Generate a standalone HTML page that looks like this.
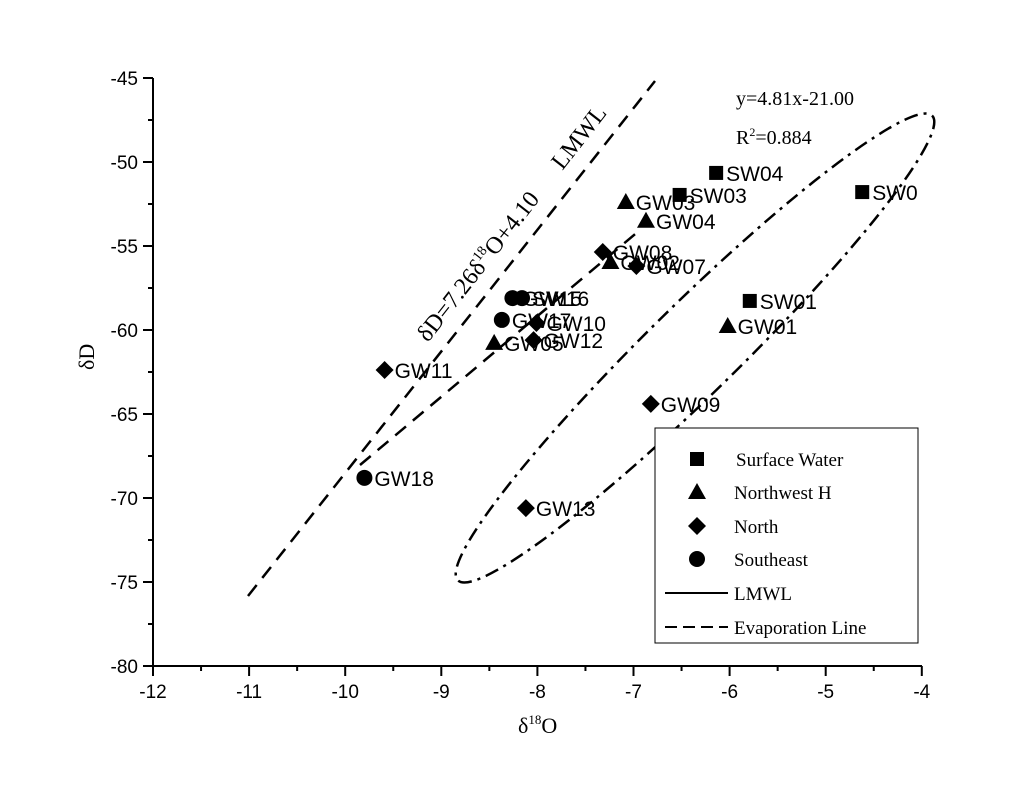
<!DOCTYPE html>
<html><head><meta charset="utf-8"><style>
body{margin:0;background:#fff}
svg text{font-family:"Liberation Sans",sans-serif}
.serif{font-family:"Liberation Serif",serif}
</style></head><body>
<svg id="chart" width="1024" height="784" viewBox="0 0 1024 784">
<g id="axes"></g>
<g id="marks"></g>
</svg>
<script>
const xTicks=[-12,-11,-10,-9,-8,-7,-6,-5,-4];
const yTicks=[-45,-50,-55,-60,-65,-70,-75,-80];
const labels=["SW04","SW03","SW0","SW01","GW03","GW04","GW01","GW05","GW02","GW08","GW07","GW09","GW11","GW13","GW10","GW12","GW18","GW17","GW15","SW16"];
const types=["sq","sq","sq","sq","tri","tri","tri","tri","tri","dia","dia","dia","dia","dia","dia","dia","cir","cir","cir","cir"];
const xs=[-6.14,-6.52,-4.62,-5.79,-7.08,-6.87,-6.02,-8.45,-7.24,-7.32,-6.97,-6.82,-9.59,-8.12,-8.01,-8.04,-9.80,-8.37,-8.26,-8.16];
const ys=[-50.65,-51.96,-51.79,-58.27,-52.38,-53.5,-59.76,-60.77,-55.95,-55.36,-56.19,-64.4,-62.38,-70.6,-59.58,-60.6,-68.8,-59.4,-58.1,-58.1];
const X=v=>153+(v+12)*96.1, Y=v=>78+(-45-v)*16.8;
const NS="http://www.w3.org/2000/svg";
function mk(t,a,p){const e=document.createElementNS(NS,t);for(const k in a)e.setAttribute(k,a[k]);p.appendChild(e);return e;}
const ax=document.getElementById('axes'), mg=document.getElementById('marks');
let l=mk('line',{x1:153,y1:78,x2:153,y2:666,stroke:'#000','stroke-width':2},ax);


l=mk('line',{x1:152,y1:666,x2:922,y2:666,stroke:'#000','stroke-width':2},ax);


xTicks.forEach((v,i)=>{
 mk('line',{x1:X(v),y1:666,x2:X(v),y2:676,stroke:'#000','stroke-width':2},ax);
 if(i<xTicks.length-1) mk('line',{x1:X(v+0.5),y1:666,x2:X(v+0.5),y2:671,stroke:'#000','stroke-width':2},ax);
 const t=mk('text',{x:X(v),y:698,'text-anchor':'middle','font-size':19},ax);t.textContent=v;
 
 
});
yTicks.forEach((v,i)=>{
 mk('line',{x1:143,y1:Y(v),x2:153,y2:Y(v),stroke:'#000','stroke-width':2},ax);
 if(i<yTicks.length-1) mk('line',{x1:148,y1:Y(v-2.5),x2:153,y2:Y(v-2.5),stroke:'#000','stroke-width':2},ax);
 const t=mk('text',{x:138,y:Y(v)+7,'text-anchor':'end','font-size':19},ax);t.textContent=v;
 
 
});
l=mk('line',{x1:248,y1:596,x2:655,y2:81,stroke:'#000','stroke-width':2.5,'stroke-dasharray':'14,9'},mg);


l=mk('line',{x1:360,y1:465,x2:640,y2:230,stroke:'#000','stroke-width':2.5,'stroke-dasharray':'14,9'},mg);


l=mk('ellipse',{cx:695,cy:348,rx:332,ry:45,transform:'rotate(-44.4 695 348)',fill:'none',stroke:'#000','stroke-width':2.5,'stroke-dasharray':'14,6,3,6'},mg);


function marker(type,cx,cy,p){
 if(type==='sq') return mk('rect',{x:cx-7,y:cy-7,width:14,height:14,fill:'#000'},p);
 if(type==='tri') return mk('polygon',{points:`${cx},${cy-9} ${cx-9},${cy+7} ${cx+9},${cy+7}`,fill:'#000'},p);
 if(type==='dia') return mk('polygon',{points:`${cx},${cy-9} ${cx+9},${cy} ${cx},${cy+9} ${cx-9},${cy}`,fill:'#000'},p);
 return mk('circle',{cx:cx,cy:cy,r:8,fill:'#000'},p);
}
labels.forEach((n,i)=>{
 const cx=X(xs[i]),cy=Y(ys[i]);
 const m=marker(types[i],cx,cy,mg);
 
 
 const t=mk('text',{x:cx+10,y:cy+8,'font-size':21},mg);t.textContent=n;
 
 
});
</script>
<svg width="1024" height="784" style="position:absolute;left:0;top:0">
<text class="serif" x="736" y="105" font-size="20">y=4.81x-21.00</text>
<text class="serif" x="736" y="144" font-size="20">R<tspan dy="-8" font-size="12">2</tspan><tspan dy="8">=0.884</tspan></text>
<text class="serif" transform="translate(428,343) rotate(-52)" font-size="24" style="white-space:pre">δD=7.26δ<tspan dy="-10" font-size="14">18</tspan><tspan dy="10">O+4.10      LMWL</tspan></text>
<text class="serif" transform="translate(94,370) rotate(-90)" font-size="22">δD</text>
<text class="serif" x="518" y="733" font-size="22">δ<tspan dy="-9" font-size="13">18</tspan><tspan dy="9">O</tspan></text>
<g>
<rect x="655" y="428" width="263" height="215" fill="#fff" stroke="#000" stroke-width="1"/>
<rect x="690" y="452" width="14" height="14" fill="#000"/>
<text class="serif" x="736" y="466" font-size="19">Surface Water</text>
<polygon points="697,483 688,499 706,499" fill="#000"/>
<text class="serif" x="734" y="499" font-size="19">Northwest H</text>
<polygon points="697,517 706,526 697,535 688,526" fill="#000"/>
<text class="serif" x="734" y="533" font-size="19">North</text>
<circle cx="697" cy="559" r="8" fill="#000"/>
<text class="serif" x="734" y="566" font-size="19">Southeast</text>
<line x1="665" y1="593" x2="728" y2="593" stroke="#000" stroke-width="2"/>
<text class="serif" x="734" y="600" font-size="19">LMWL</text>
<line x1="665" y1="627" x2="728" y2="627" stroke="#000" stroke-width="2" stroke-dasharray="12,6"/>
<text class="serif" x="734" y="634" font-size="19">Evaporation Line</text>
</g>
</svg>
</body></html>
